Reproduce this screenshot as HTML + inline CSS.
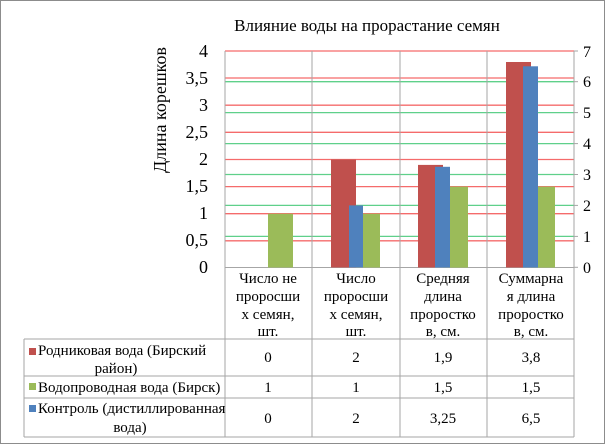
<!DOCTYPE html>
<html><head><meta charset="utf-8"><style>
body{margin:0;background:#fff}
svg{display:block}
svg text{font-family:"Liberation Serif","Noto Serif CJK SC","DejaVu Serif",serif;fill:#000}
</style></head><body>
<svg width="605" height="444" viewBox="0 0 605 444" xmlns="http://www.w3.org/2000/svg">
<rect x="0.5" y="0.5" width="604" height="443" fill="#fff" stroke="#8c8c8c"/>
<text x="367" y="31" font-size="17" text-anchor="middle">Влияние воды на прорастание семян</text>
<text transform="translate(166,110) rotate(-90)" font-size="18" text-anchor="middle">Длина корешков</text>
<g stroke="#f56b6b" stroke-width="1.3">
<line x1="225" x2="574" y1="51" y2="51"/><line x1="225" x2="574" y1="78" y2="78"/><line x1="225" x2="574" y1="105.2" y2="105.2"/><line x1="225" x2="574" y1="132.3" y2="132.3"/><line x1="225" x2="574" y1="159.5" y2="159.5"/><line x1="225" x2="574" y1="186.6" y2="186.6"/><line x1="225" x2="574" y1="213.7" y2="213.7"/><line x1="225" x2="574" y1="240.8" y2="240.8"/>
</g>
<g stroke="#5fd08a" stroke-width="1.3">
<line x1="225" x2="574" y1="236.4" y2="236.4"/><line x1="225" x2="574" y1="205.4" y2="205.4"/><line x1="225" x2="574" y1="174.5" y2="174.5"/><line x1="225" x2="574" y1="143.6" y2="143.6"/><line x1="225" x2="574" y1="112.6" y2="112.6"/><line x1="225" x2="574" y1="81.7" y2="81.7"/>
</g>
<g stroke="#a6a6a6" stroke-width="1">
<line x1="225" x2="225" y1="51" y2="267"/><line x1="312" x2="312" y1="51" y2="340"/><line x1="400" x2="400" y1="51" y2="340"/><line x1="487" x2="487" y1="51" y2="340"/><line x1="574" x2="574" y1="51" y2="437"/>
<line x1="225" x2="574" y1="267.5" y2="267.5"/>
<line x1="574" x2="578" y1="51" y2="51"/><line x1="574" x2="578" y1="81.7" y2="81.7"/><line x1="574" x2="578" y1="112.6" y2="112.6"/><line x1="574" x2="578" y1="143.6" y2="143.6"/><line x1="574" x2="578" y1="174.5" y2="174.5"/><line x1="574" x2="578" y1="205.4" y2="205.4"/><line x1="574" x2="578" y1="236.4" y2="236.4"/><line x1="574" x2="578" y1="267.3" y2="267.3"/>
<line x1="225" x2="225" y1="267" y2="437"/><line x1="24" x2="24" y1="339" y2="437"/>
<line x1="24" x2="574" y1="339" y2="339"/><line x1="24" x2="574" y1="376" y2="376"/><line x1="24" x2="574" y1="398" y2="398"/><line x1="24" x2="574" y1="437" y2="437"/>
<line x1="312" x2="312" y1="339" y2="437"/><line x1="400" x2="400" y1="339" y2="437"/><line x1="487" x2="487" y1="339" y2="437"/>
</g>
<rect x="268" y="213.7" width="25" height="53.8" fill="#9bbb59"/>
<rect x="331" y="159.5" width="25" height="108" fill="#c0504d"/>
<rect x="356" y="213.7" width="24" height="53.8" fill="#9bbb59"/>
<rect x="349" y="205.4" width="14" height="62" fill="#4f81bd"/>
<rect x="418" y="164.9" width="25" height="102.6" fill="#c0504d"/>
<rect x="443" y="186.6" width="25" height="81" fill="#9bbb59"/>
<rect x="435" y="166.8" width="15" height="100.7" fill="#4f81bd"/>
<rect x="506" y="62" width="25" height="205.5" fill="#c0504d"/>
<rect x="531" y="186.6" width="24" height="81" fill="#9bbb59"/>
<rect x="523" y="66.3" width="15" height="201.2" fill="#4f81bd"/>
<g font-size="18" text-anchor="end">
<text x="208" y="57">4</text><text x="208" y="84">3,5</text><text x="208" y="111">3</text><text x="208" y="138">2,5</text><text x="208" y="165">2</text><text x="208" y="192">1,5</text><text x="208" y="219">1</text><text x="208" y="246">0,5</text><text x="208" y="273">0</text>
</g>
<g font-size="16">
<text x="583" y="57">7</text><text x="583" y="87">6</text><text x="583" y="118">5</text><text x="583" y="149">4</text><text x="583" y="180">3</text><text x="583" y="211">2</text><text x="583" y="242">1</text><text x="583" y="273">0</text>
</g>
<g font-size="15" text-anchor="middle">
<text x="268" y="283">Число не</text><text x="268" y="301">пророcши</text><text x="268" y="319">х семян,</text><text x="268" y="336">шт.</text>
<text x="356" y="283">Число</text><text x="356" y="301">пророcши</text><text x="356" y="319">х семян,</text><text x="356" y="336">шт.</text>
<text x="443" y="283">Средняя</text><text x="443" y="301">длина</text><text x="443" y="319">проростко</text><text x="443" y="336">в, см.</text>
<text x="531" y="283">Суммарна</text><text x="531" y="301">я длина</text><text x="531" y="319">проростко</text><text x="531" y="336">в, см.</text>
<text x="268" y="362">0</text><text x="356" y="362">2</text><text x="443" y="362">1,9</text><text x="531" y="362">3,8</text>
<text x="268" y="392">1</text><text x="356" y="392">1</text><text x="443" y="392">1,5</text><text x="531" y="392">1,5</text>
<text x="268" y="423">0</text><text x="356" y="423">2</text><text x="443" y="423">3,25</text><text x="531" y="423">6,5</text>
</g>
<rect x="29" y="348" width="7" height="7" fill="#c0504d"/>
<rect x="29" y="383" width="7" height="7" fill="#9bbb59"/>
<rect x="29" y="405" width="7" height="7" fill="#4f81bd"/>
<g font-size="15">
<text x="38" y="355">Родниковая вода (Бирский</text><text x="116" y="373" text-anchor="middle">район)</text>
<text x="38" y="392">Водопроводная вода (Бирск)</text>
<text x="38" y="413">Контроль (дистиллированная</text><text x="130" y="432" text-anchor="middle">вода)</text>
</g>
</svg>
</body></html>
